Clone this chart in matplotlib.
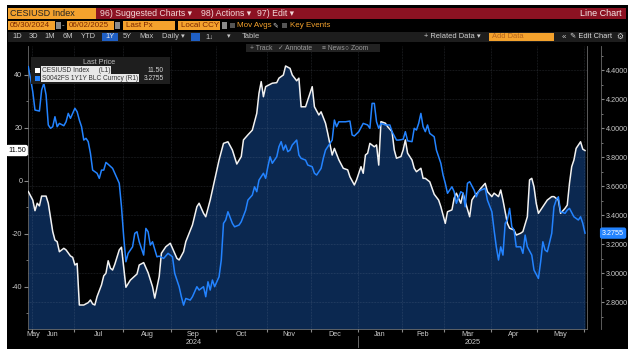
import numpy as np
import pandas as pd
import matplotlib
matplotlib.use("Agg")
import matplotlib.pyplot as plt
import matplotlib.transforms as mtrans
from matplotlib.patches import Rectangle
from matplotlib import font_manager

names = {f.name for f in font_manager.fontManager.ttflist}
narrow = [f for f in ("Liberation Sans Narrow", "DejaVu Sans Condensed", "Liberation Sans") if f in names]
plt.rcParams["font.family"] = narrow + ["DejaVu Sans"]

W, H = 640, 357

# ---- data -------------------------------------------------------------
START, END = "2024-05-30", "2025-06-02"
HOLIDAYS = ["2024-06-19", "2024-07-04", "2024-09-02", "2024-11-28", "2024-12-25",
            "2025-01-01", "2025-01-09", "2025-01-20", "2025-02-17", "2025-04-18",
            "2025-05-26"]

# CESIUSD Index (left axis); session = trading day number counted from START
cesi_session = [0, 2, 3, 4, 5, 6, 8, 9, 11, 12, 13, 14, 16, 17, 19, 20, 21, 22, 23, 25,
                27, 28, 29, 30, 31, 33, 34, 35, 36, 37, 38, 39, 41, 42, 44, 46, 49, 50, 52, 54,
                56, 57, 59, 60, 62, 64, 65, 67, 68, 70, 71, 74, 76, 77, 79, 80, 82, 84, 86, 88,
                90, 92, 94, 96, 97, 99, 101, 103, 104, 105, 106, 107, 110, 112, 113, 115, 116, 118, 119, 121,
                122, 123, 125, 127, 128, 129, 131, 132, 134, 135, 137, 138, 140, 142, 144, 145, 147, 148, 150, 151,
                152, 153, 154, 156, 157, 158, 159, 161, 162, 164, 165, 166, 168, 169, 170, 171, 173, 174, 175, 177,
                178, 179, 181, 183, 185, 186, 188, 189, 191, 192, 193, 195, 196, 197, 199, 200, 201, 203, 204, 206,
                207, 209, 210, 212, 213, 214, 216, 217, 219, 220, 222, 223, 225, 226, 227, 228, 229, 230, 232, 234,
                236, 237, 239, 240, 242, 243, 244, 245, 246, 247, 249, 250, 251]
cesi_value = [-4.0, -7.2, -11.2, -8.4, -9.4, -5.7, -5.7, -8.4, -19.1, -22.3, -22.9, -26.7, -25.4, -26.0, -28.3, -28.8, -31.7, -31.1, -46.8, -46.8,
              -45.9, -44.9, -46.4, -46.8, -43.6, -39.2, -35.8, -34.8, -30.1, -32.9, -33.6, -31.4, -26.0, -25.0, -40.1, -37.4, -35.1, -31.7, -30.8, -34.6,
              -39.9, -44.2, -36.1, -27.3, -24.8, -23.5, -25.4, -29.2, -29.8, -26.7, -22.9, -16.6, -9.7, -8.4, -12.2, -13.5, -7.2, 0.4, 7.9, 14.2,
              14.8, 11.7, 6.4, 9.2, 15.5, 17.4, 19.2, 25.5, 33.1, 37.5, 31.8, 35.6, 36.9, 37.1, 38.8, 40.0, 43.4, 42.5, 40.0, 37.8,
              38.8, 28.0, 28.0, 33.1, 35.6, 28.0, 24.9, 26.1, 21.8, 18.0, 9.8, 12.3, 8.0, 4.8, 4.2, 1.6, -1.5, 0.4, 5.4, 2.9,
              9.8, 10.5, 14.2, 12.9, 13.6, 6.0, 22.4, 21.8, 20.5, 18.6, 11.7, 8.6, 9.2, 11.7, 15.5, 10.5, 7.9, 4.8, 3.5, 4.8,
              1.0, 1.0, -0.3, -5.0, -7.2, -9.7, -16.0, -11.6, -10.9, -6.5, -4.6, -8.4, -4.6, -7.8, -13.5, -7.2, -5.9, -4.0, -2.8, -0.9,
              -4.0, -5.9, -4.6, -5.9, -3.4, -7.2, -16.0, -17.8, -18.5, -20.4, -19.7, -19.1, -13.5, 0.4, 1.0, -2.2, -8.4, -12.2, -9.7, -7.2,
              -5.9, -5.9, -7.2, -12.2, -10.3, -9.1, -0.9, 5.4, 7.9, 12.3, 14.8, 12.0, 11.5]

# S0042FS 1Y1Y BLC Curncy (right axis)
rate_session = [0, 1, 2, 3, 5, 6, 7, 8, 9, 10, 11, 12, 13, 14, 16, 17, 18, 19, 21, 22,
                23, 24, 25, 26, 27, 28, 29, 31, 32, 33, 34, 35, 36, 38, 39, 41, 42, 43, 44, 45,
                47, 48, 49, 50, 52, 53, 54, 55, 56, 58, 59, 61, 63, 65, 66, 68, 69, 70, 71, 73,
                74, 76, 77, 79, 80, 81, 82, 83, 84, 86, 87, 88, 89, 90, 92, 93, 95, 96, 98, 99,
                101, 102, 103, 104, 106, 107, 108, 109, 110, 112, 113, 114, 115, 116, 117, 118, 119, 121, 122, 123,
                125, 126, 128, 129, 130, 132, 133, 134, 136, 137, 138, 139, 140, 143, 145, 146, 147, 149, 151, 153,
                154, 155, 156, 157, 158, 159, 161, 163, 164, 166, 167, 169, 170, 171, 173, 174, 175, 176, 177, 178,
                179, 180, 181, 183, 184, 186, 187, 188, 189, 191, 192, 193, 195, 196, 197, 198, 199, 201, 202, 203,
                204, 206, 207, 209, 210, 211, 212, 213, 214, 215, 216, 217, 218, 219, 220, 222, 223, 224, 225, 227,
                228, 230, 231, 232, 233, 234, 236, 237, 238, 239, 240, 242, 243, 244, 246, 248, 249, 250, 251]
rate_value = [4.423, 4.34, 4.25, 4.124, 4.117, 4.262, 4.308, 4.228, 4.021, 3.998, 4.009, 4.078, 4.009, 4.032, 4.016, 4.043, 4.101, 4.067, 4.136, 4.112,
              4.055, 4.009, 3.917, 3.929, 3.906, 3.826, 3.710, 3.688, 3.653, 3.710, 3.710, 3.763, 3.750, 3.722, 3.688, 3.619, 3.457, 3.250, 3.078, 3.136,
              3.181, 3.274, 3.285, 3.216, 3.124, 3.308, 3.285, 3.193, 3.216, 3.112, 3.117, 3.101, 3.136, 3.112, 2.998, 2.906, 2.837, 2.779, 2.825, 2.814,
              2.837, 2.906, 2.883, 2.906, 2.837, 2.940, 2.883, 2.952, 2.906, 2.975, 3.090, 3.343, 3.366, 3.423, 3.343, 3.319, 3.331, 3.354, 3.434, 3.503,
              3.538, 3.595, 3.561, 3.641, 3.688, 3.653, 3.733, 3.802, 3.757, 3.802, 3.871, 3.906, 3.848, 3.883, 3.837, 3.848, 3.883, 3.917, 3.814, 3.791,
              3.779, 3.745, 3.733, 3.688, 3.676, 3.722, 3.791, 3.848, 3.894, 3.917, 4.055, 4.009, 4.043, 4.043, 4.048, 3.952, 3.945, 3.975, 4.032, 4.021,
              3.998, 4.170, 4.170, 4.043, 3.998, 4.032, 4.021, 4.021, 3.975, 3.917, 3.917, 3.922, 3.975, 3.912, 3.906, 3.998, 3.986, 4.032, 4.101, 4.009,
              3.975, 4.021, 3.963, 3.940, 3.848, 3.757, 3.676, 3.619, 3.550, 3.595, 3.561, 3.481, 3.561, 3.550, 3.457, 3.619, 3.630, 3.572, 3.526, 3.561,
              3.572, 3.584, 3.503, 3.423, 3.297, 3.181, 3.090, 3.181, 3.124, 3.343, 3.366, 3.446, 3.319, 3.297, 3.181, 3.181, 3.136, 3.262, 3.181, 3.124,
              3.021, 2.963, 3.078, 3.216, 3.159, 3.147, 3.274, 3.457, 3.503, 3.526, 3.423, 3.412, 3.434, 3.446, 3.388, 3.366, 3.388, 3.343, 3.2755]

LEFT_TICKS = [40, 20, 0, -20, -40]
RIGHT_TICKS = [4.4, 4.2, 4.0, 3.8, 3.6, 3.4, 3.2, 3.0, 2.8]
MONTH_LABELS = ["May", "Jun", "Jul", "Aug", "Sep", "Oct", "Nov", "Dec",
                "Jan", "Feb", "Mar", "Apr", "May"]
YEAR_LABELS = ["2024", "2025"]

# ---- colours ------------------------------------------------------------
ORANGE = "#f4a22d"
RED_BAR = "#8c1222"
BAR_GREY = "#1d1d1d"
FILL = "#0b2850"
BLUE = "#2383ff"
WHITE = "#f2f2f2"
AXIS_TXT = "#c8c8c8"

fig = plt.figure(figsize=(W / 100, H / 100), dpi=100)
fig.patch.set_facecolor("white")


def fx(x):
    return x / W


def fy(y):
    return 1 - y / H


def block(x0, y0, x1, y1, color, z=1):
    fig.add_artist(Rectangle((fx(x0), fy(y1)), (x1 - x0) / W, (y1 - y0) / H,
                             transform=fig.transFigure, color=color, lw=0, zorder=z))


def label(x, y, s, color, size=5.5, ha="left", z=2, **kw):
    fig.text(fx(x), fy(y), s, color=color, fontsize=size, ha=ha, va="center", zorder=z, **kw)


# black terminal frame
block(7, 5, 628, 349, "black", z=-2)

# ---- main plot ----------------------------------------------------------
days = pd.bdate_range(START, END, freq="C", holidays=HOLIDAYS)
n = len(days)
month_id = days.year * 12 + days.month
starts = np.flatnonzero(np.r_[True, np.diff(month_id) != 0])
ends = np.r_[starts[1:], n]

left_px, right_px, top_px, bot_px = 28, 587, 46, 329
ax = fig.add_axes([fx(left_px), fy(bot_px), (right_px - left_px) / W, (bot_px - top_px) / H])
ax.set_facecolor("black")
ax.set_xlim(-0.15, 251.9)
ax.set_ylim(-55.85, 50.94)

x_cesi = np.array(cesi_session)
ax.fill_between(x_cesi, cesi_value, -60, color=FILL, lw=0, zorder=1)
ax.plot(x_cesi, cesi_value, color=WHITE, lw=1.1, zorder=3)

ax2 = ax.twinx()
ax2.set_ylim(2.6145, 4.5655)
ax2.plot(rate_session, rate_value, color=BLUE, lw=1.1, zorder=4)

# month boundaries (ticks + vertical grid) and centred month names
bounds = starts[1:] - 0.5
ax.set_xticks(bounds)
ax.set_xticklabels([])
centres = [max((s + e - 1) / 2, 2.0) for s, e in zip(starts, ends) if e - s >= 2]
ax.set_xticks(centres, minor=True)
ax.set_xticklabels(MONTH_LABELS[:len(centres)], minor=True)
ax.tick_params(axis="x", which="major", length=2.5, color="#888888", direction="out")
ax.tick_params(axis="x", which="minor", length=0, pad=1.5, labelsize=5.2, labelcolor=AXIS_TXT)

xa = mtrans.blended_transform_factory(ax.transData, ax.transAxes)
jan = starts[days[starts].month == 1][0]
ax.text(jan / 2, -0.046, YEAR_LABELS[0], transform=xa,
        ha="center", va="center", fontsize=5.2, color=AXIS_TXT)
ax.text((jan + n) / 2, -0.046, YEAR_LABELS[1], transform=xa,
        ha="center", va="center", fontsize=5.2, color=AXIS_TXT)
ax.plot([jan - 0.5, jan - 0.5], [-0.025, -0.064], transform=xa,
        color="#777777", lw=0.6, clip_on=False)

ax.set_yticks(LEFT_TICKS)
ax.set_yticks(np.arange(-50, 50, 10), minor=True)
ax.set_yticklabels([str(v) for v in LEFT_TICKS])
ax.tick_params(axis="y", which="both", direction="out", color="#888888", labelsize=5.2,
               labelcolor=AXIS_TXT, pad=1)
ax.tick_params(axis="y", which="major", length=3)
ax.tick_params(axis="y", which="minor", length=1.5)

ax2.set_yticks(RIGHT_TICKS)
ax2.set_yticks(np.arange(2.7, 4.55, 0.1), minor=True)
ax2.set_yticklabels([f"{v:.4f}" for v in RIGHT_TICKS])
ax2.tick_params(axis="y", which="both", direction="out", color="#888888", labelsize=5.2,
                labelcolor=AXIS_TXT, pad=1)
ax2.tick_params(axis="y", which="major", length=2.5)
ax2.tick_params(axis="y", which="minor", length=1.5)
ax2.spines["right"].set_position(("axes", (601 - left_px) / (right_px - left_px)))

for a in (ax, ax2):
    for s in a.spines.values():
        s.set_color("#6a6a6a")
        s.set_linewidth(0.6)
ax.spines["top"].set_visible(False)
for k in ("top", "left", "bottom"):
    ax2.spines[k].set_visible(False)

grid_kw = dict(color="#9aa6b8", alpha=0.28, lw=0.5, ls=(0, (1, 1.2)))
ax.grid(axis="x", which="major", **grid_kw)
ax2.grid(axis="y", which="major", **grid_kw)
ax.set_axisbelow(False)

# last value badges
ax.text(-0.004, cesi_value[-1], f"{cesi_value[-1]:.2f}",
        transform=mtrans.blended_transform_factory(ax.transAxes, ax.transData),
        ha="right", va="center", fontsize=5.2, color="black", zorder=6, clip_on=False,
        bbox=dict(boxstyle="round,pad=0.3,rounding_size=0.3", fc="white", ec="none"))
ax2.text(1.027, rate_value[-1], f"{rate_value[-1]:.4f}",
         transform=mtrans.blended_transform_factory(ax2.transAxes, ax2.transData),
         ha="left", va="center", fontsize=5.2, color="white", zorder=6, clip_on=False,
         bbox=dict(boxstyle="round,pad=0.3,rounding_size=0.3", fc=BLUE, ec="none"))

# legend box
block(31, 57, 170, 84, "#1e1e1e", z=5)
label(99, 62, "Last Price", "#bdbdbd", size=5.2, ha="center", z=6)
block(35, 67.5, 40, 72.5, "white", z=6)
block(35, 75.5, 40, 80.5, BLUE, z=6)
label(42, 70, "CESIUSD Index     (L1)", "#333333", size=4.8, z=6,
      bbox=dict(boxstyle="square,pad=0.1", fc="#e8e8e8", ec="none"))
label(42, 78, "S0042FS 1Y1Y BLC Curncy (R1)", "#333333", size=4.7, z=6,
      bbox=dict(boxstyle="square,pad=0.1", fc="#e8e8e8", ec="none"))
label(164, 70, f"{cesi_value[-1]:.2f}", "#d8d8d8", size=4.8, ha="right", z=6)
label(164, 78, f"{rate_value[-1]:.4f}", "#d8d8d8", size=4.8, ha="right", z=6)

# ---- terminal toolbar ---------------------------------------------------
# row 1
block(8, 8, 96, 19, ORANGE)
label(10, 13.5, "CESIUSD Index", "#222222", size=6.5)
block(96, 8, 626, 19, RED_BAR)
label(100, 13.5, "96) Suggested Charts \u25be", "#f2d8d8", size=6.3)
label(201, 13.5, "98) Actions \u25be", "#f2d8d8", size=6.3)
label(257, 13.5, "97) Edit \u25be", "#f2d8d8", size=6.3)
label(622, 13.5, "Line Chart", "#f7eaea", size=6.5, ha="right")

# row 2
block(8, 21, 55, 30, ORANGE)
label(10, 25.5, "05/30/2024", "#7a2600", size=5.8)
block(56, 22, 61, 29, "#8a8a8a")
label(62, 25.5, "-", "#bbbbbb", size=5.8)
block(67, 21, 114, 30, ORANGE)
label(69, 25.5, "06/02/2025", "#7a2600", size=5.8)
block(115, 22, 120, 29, "#8a8a8a")
block(123, 21, 175, 30, ORANGE)
label(126, 25.5, "Last Px", "#7a2600", size=5.8)
block(178, 21, 220, 30, ORANGE)
label(181, 25.5, "Local CCY", "#7a2600", size=5.8)
block(222, 22, 227, 29, "#8a8a8a")
block(230, 23, 235, 28, "#555555")
label(237, 25.5, "Mov Avgs", ORANGE, size=5.8)
label(272, 25.5, "\u270e", "#cccccc", size=5)
block(282, 23, 287, 28, "#555555")
label(290, 25.5, "Key Events", ORANGE, size=5.8)

# row 3
block(8, 32, 626, 42, BAR_GREY)
for x, s in [(17, "1D"), (33, "3D"), (50, "1M"), (68, "6M"), (88, "YTD"), (127, "5Y"), (146, "Max")]:
    label(x, 37, s, "#c8c8c8", size=5.4, ha="center")
block(102, 33, 118, 41, "#1f5fc4")
label(110, 37, "1Y", "#e8e8e8", size=5.4, ha="center")
label(162, 37, "Daily \u25be", "#c8c8c8", size=5.4)
block(191, 33, 200, 41, "#1f5fc4")
label(205, 37, "1\u2193", "#c8c8c8", size=5.4)
label(227, 37, "\u25be", "#c8c8c8", size=5)
label(242, 37, "Table", "#c8c8c8", size=5.4)
label(424, 37, "+ Related Data \u25be", "#d0d0d0", size=5.4)
block(489, 33, 554, 41, ORANGE)
label(492, 37, "Add Data", "#b5651d", size=5.4)
label(562, 37, "\u00ab", "#d0d0d0", size=5.6)
label(570, 37, "\u270e Edit Chart", "#d8d8d8", size=5.4)
label(620, 37, "\u2699", "#d0d0d0", size=5.6, ha="center")

# row 4
block(246, 44, 380, 52, "#222222", z=3)
label(250, 48, "+ Track", "#9a9a9a", size=4.9, z=4)
label(278, 48, "\u2713 Annotate", "#9a9a9a", size=4.9, z=4)
label(322, 48, "\u2261 News", "#9a9a9a", size=4.9, z=4)
label(345, 48, "\u25cb Zoom", "#9a9a9a", size=4.9, z=4)

fig.savefig("out.png", dpi=100, facecolor=fig.get_facecolor())
